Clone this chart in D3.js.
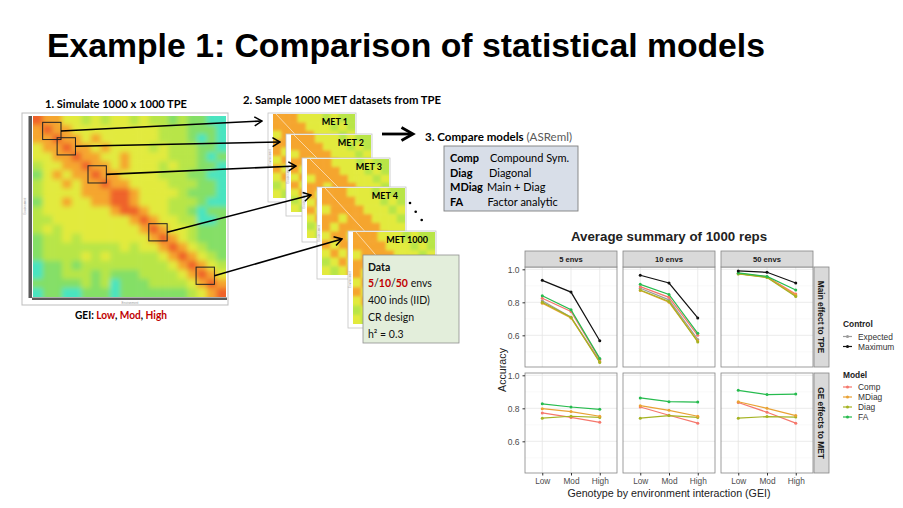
<!DOCTYPE html>
<html>
<head>
<meta charset="utf-8">
<script src="https://cdn.jsdelivr.net/npm/d3@7"></script>
<style>
body { margin: 0; background: #fff; }
svg { display: block; }
</style>
</head>
<body>
<svg width="903" height="508"></svg>
<script>
// ---- chart data ----
const gei = ['Low', 'Mod', 'High']
const envs = ['5 envs', '10 envs', '50 envs']
const effects = ['Main effect to TPE', 'GE effects to MET']
const models = ['Comp', 'MDiag', 'Diag', 'FA']
const controls = ['Expected', 'Maximum']
const yTicks = [0.6, 0.8, 1.0]
const yMinor = [0.5, 0.7, 0.9]

// top row: accuracy vs TPE main effect, one triple per env block
const tpeExpected = [[0.810, 0.710, 0.445], [0.885, 0.815, 0.575], [0.973, 0.953, 0.840]]
const tpeComp     = [[0.825, 0.745, 0.455], [0.895, 0.830, 0.600], [0.975, 0.955, 0.850]]
const tpeMDiag    = [[0.795, 0.705, 0.440], [0.872, 0.800, 0.565], [0.974, 0.952, 0.845]]
const tpeDiag     = [[0.800, 0.710, 0.435], [0.875, 0.805, 0.560], [0.972, 0.950, 0.835]]
const tpeFA       = [[0.840, 0.755, 0.460], [0.909, 0.848, 0.612], [0.978, 0.957, 0.875]]
const tpeMaximum  = [[0.933, 0.862, 0.567], [0.964, 0.917, 0.705], [0.990, 0.982, 0.917]]

// bottom row: accuracy vs GE effects in the MET
const metComp  = [[0.772, 0.745, 0.715], [0.808, 0.758, 0.710], [0.835, 0.776, 0.710]]
const metMDiag = [[0.798, 0.780, 0.752], [0.816, 0.788, 0.752], [0.840, 0.800, 0.756]]
const metDiag  = [[0.740, 0.752, 0.745], [0.740, 0.756, 0.745], [0.740, 0.750, 0.747]]
const metFA    = [[0.827, 0.808, 0.794], [0.863, 0.840, 0.838], [0.909, 0.883, 0.886]]

// heatmap colour levels (0 cyan .. 5 red), coarse reading of the TPE picture
const tpeLevels = [
  '54433232332322121100',
  '45443333333332221110',
  '44544343333332221010',
  '34454434333323222110',
  '33445443343333222101',
  '23344544343332322110',
  '13434454433332221100',
  '23343445443333222110',
  '23333444554333321110',
  '13343344554333222100',
  '23333333455433221011',
  '22333333334543322001',
  '23233333333454332111',
  '12232333333345432111',
  '12222222232334543211',
  '12222323222223454321',
  '01121222222222345432',
  '01122212111222234543',
  '11111212011122223454',
  '01100111011111112345'
]
const metLevels = [
  '4443332322',
  '4444333232',
  '3444433323',
  '4434443332',
  '4344444333',
  '3443444433',
  '4344344443',
  '3434434444',
  '2343443444',
  '3234344344'
]
const metLabels = ['MET 1', 'MET 2', 'MET 3', 'MET 4', 'MET 1000']
// sampled sub-blocks of the TPE matrix, in heatmap cells [col, row]
const sampleBlocks = [[1.0, 0.7], [2.5, 2.4], [5.7, 5.5], [12.0, 11.9], [16.9, 16.7]]
const blockSize = 1.9

const modelColors = ['#f5776c', '#e9a234', '#a5b322', '#26bb4e']
const controlColors = ['#9b9b9b', '#111111']
const heatColors = ['#48e4c0', '#84df66', '#b8e546', '#e2ea3e', '#f5a52e', '#ef622a']

const svg = d3.select('svg')
const defs = svg.append('defs')
defs.append('marker').attr('id', 'head')
  .attr('viewBox', '-9 -6 10 12').attr('markerWidth', 10).attr('markerHeight', 12)
  .attr('markerUnits', 'userSpaceOnUse').attr('refX', 0).attr('refY', 0).attr('orient', 'auto')
  .append('path').attr('d', 'M-7.5,-4.5L0,0L-7.5,4.5')
  .attr('fill', 'none').attr('stroke', '#000').attr('stroke-width', 1.5)

const heatColor = d3.scaleLinear().domain(d3.range(6)).range(heatColors)
const SLIDE = 'Lato, "Open Sans", sans-serif'
const CHART = '"Liberation Sans", Arial, sans-serif'

function heat(levels, x0, y0, w, h, id, blur) {
  const n = levels.length
  const sx = d3.scaleBand().domain(d3.range(n)).range([x0, x0 + w])
  const sy = d3.scaleBand().domain(d3.range(n)).range([y0, y0 + h])
  defs.append('clipPath').attr('id', 'c' + id)
    .append('rect').attr('x', x0).attr('y', y0).attr('width', w).attr('height', h)
  defs.append('filter').attr('id', 'f' + id)
    .attr('filterUnits', 'userSpaceOnUse')
    .attr('x', x0 - 10).attr('y', y0 - 10).attr('width', w + 20).attr('height', h + 20)
    .append('feGaussianBlur').attr('in', 'SourceGraphic').attr('stdDeviation', blur)
  const g = svg.append('g').attr('clip-path', `url(#c${id})`)
  const cells = levels.flatMap((row, i) => row.split('').map((c, j) => ({ i, j, v: +c })))
  const inner = g.append('g').attr('filter', `url(#f${id})`)
  // pad edge cells outward so the blur does not fade at the borders
  inner.selectAll('rect').data(cells).join('rect')
    .attr('x', d => sx(d.j) - (d.j === 0 ? 8 : 0))
    .attr('y', d => sy(d.i) - (d.i === 0 ? 8 : 0))
    .attr('width', d => sx.bandwidth() + 0.5 + (d.j === 0 || d.j === n - 1 ? 8 : 0))
    .attr('height', d => sy.bandwidth() + 0.5 + (d.i === 0 || d.i === n - 1 ? 8 : 0))
    .attr('fill', d => heatColor(d.v))
  return g
}

// ---- slide title ----
svg.append('text').attr('x', 47).attr('y', 57)
  .attr('font-family', CHART).attr('font-weight', 'bold').attr('font-size', 34)
  .attr('textLength', 718).attr('lengthAdjust', 'spacingAndGlyphs')
  .text('Example 1: Comparison of statistical models')

// ---- 1. TPE heatmap ----
svg.append('text').attr('x', 45).attr('y', 108)
  .attr('font-family', SLIDE).attr('font-weight', 'bold').attr('font-size', 11)
  .attr('textLength', 142).attr('lengthAdjust', 'spacingAndGlyphs')
  .text('1. Simulate 1000 x 1000 TPE')
svg.append('rect').attr('x', 22).attr('y', 113).attr('width', 206).attr('height', 192)
  .attr('fill', '#fff').attr('stroke', '#bdbdbd')
svg.append('rect').attr('x', 28.5).attr('y', 116).attr('width', 3.5).attr('height', 182).attr('fill', '#5a5a5a')
svg.append('rect').attr('x', 32).attr('y', 297.5).attr('width', 195).attr('height', 2.5).attr('fill', '#5a5a5a')
svg.append('text').attr('transform', 'translate(26,206) rotate(-90)').attr('text-anchor', 'middle')
  .attr('font-family', CHART).attr('font-size', 3).attr('fill', '#999').text('Environment')
svg.append('text').attr('x', 130).attr('y', 303.5).attr('text-anchor', 'middle')
  .attr('font-family', CHART).attr('font-size', 3).attr('fill', '#999').text('Environment')

const tpe = { x: 33, y: 116, w: 193, h: 181 }
heat(tpeLevels, tpe.x, tpe.y, tpe.w, tpe.h, 'Tpe', 2.4)
const cx = d3.scaleLinear().domain([0, tpeLevels.length]).range([tpe.x, tpe.x + tpe.w])
const cy = d3.scaleLinear().domain([0, tpeLevels.length]).range([tpe.y, tpe.y + tpe.h])
const blocks = sampleBlocks.map(([c, r]) => ({
  x0: cx(c), y0: cy(r), x1: cx(c + blockSize), y1: cy(r + blockSize)
}))
svg.append('g').selectAll('rect').data(blocks).join('rect')
  .attr('x', d => d.x0).attr('y', d => d.y0)
  .attr('width', d => d.x1 - d.x0).attr('height', d => d.y1 - d.y0)
  .attr('fill', 'none').attr('stroke', '#222').attr('stroke-width', 1)

const gei0 = svg.append('text').attr('x', 75).attr('y', 319)
  .attr('font-family', SLIDE).attr('font-weight', 'bold').attr('font-size', 11)
  .attr('textLength', 92).attr('lengthAdjust', 'spacingAndGlyphs')
gei0.append('tspan').text('GEI: ')
gei0.append('tspan').attr('fill', '#c00000').text('Low')
gei0.append('tspan').text(', ')
gei0.append('tspan').attr('fill', '#c00000').text('Mod')
gei0.append('tspan').text(', ')
gei0.append('tspan').attr('fill', '#c00000').text('High')

// ---- 2. MET samples ----
svg.append('text').attr('x', 243).attr('y', 104)
  .attr('font-family', SLIDE).attr('font-weight', 'bold').attr('font-size', 11)
  .attr('textLength', 198).attr('lengthAdjust', 'spacingAndGlyphs')
  .text('2. Sample 1000 MET datasets from TPE')

const metBoxes = [[268, 113, 88, 89], [286, 134, 86, 82], [302, 158, 88, 84], [317, 187, 89, 92], [348, 231, 88, 97]]
metBoxes.forEach(([x0, y0, w, h], k) => {
  svg.append('rect').attr('x', x0).attr('y', y0).attr('width', w).attr('height', h)
    .attr('fill', '#fff').attr('stroke', '#c4c4c4').attr('stroke-width', 0.8)
  const hx0 = x0 + 5, hy0 = y0 + 1, hw = w - 6, hh = h - 5
  heat(metLevels, hx0, hy0, hw, hh, 'Met' + k, 1.8)
  svg.append('line').attr('x1', hx0 + 3).attr('y1', hy0).attr('x2', hx0 + hw).attr('y2', hy0 + hh)
    .attr('stroke', '#fff').attr('stroke-width', 0.7).attr('opacity', 0.8)
  svg.append('text').attr('transform', `translate(${x0 + 3},${y0 + h / 2}) rotate(-90)`)
    .attr('text-anchor', 'middle').attr('font-family', CHART).attr('font-size', 3).attr('fill', '#999')
    .text('Environment')
  svg.append('text').attr('x', x0 + w - 8).attr('y', y0 + 12).attr('text-anchor', 'end')
    .attr('font-family', SLIDE).attr('font-weight', 'bold').attr('font-size', 9)
    .text(metLabels[k])
})

// data box
svg.append('rect').attr('x', 363).attr('y', 255).attr('width', 96).attr('height', 88)
  .attr('fill', '#e3eedb').attr('stroke', '#8f8f8f').attr('stroke-width', 0.8)
const dataText = svg.append('g').attr('font-family', SLIDE).attr('font-size', 10.5).attr('fill', '#111')
dataText.append('text').attr('x', 368).attr('y', 270.5).attr('font-weight', 'bold').text('Data')
const envText = dataText.append('text').attr('x', 368).attr('y', 287)
;['5', '/', '10', '/', '50'].forEach(s => {
  envText.append('tspan').attr('fill', s === '/' ? '#111' : '#c00000')
    .attr('font-weight', s === '/' ? 'normal' : 'bold').text(s)
})
envText.append('tspan').text(' envs')
dataText.append('text').attr('x', 368).attr('y', 304).text('400 inds (IID)')
dataText.append('text').attr('x', 368).attr('y', 321).text('CR design')
dataText.append('text').attr('x', 368).attr('y', 337.5).text('h² = 0.3')

// arrows TPE blocks -> MET panels
const links = blocks.map((b, k) => ({
  x1: b.x1, y1: (b.y0 + b.y1) / 2,
  x2: metBoxes[k][0] - 6, y2: metBoxes[k][1] + 8
}))
svg.append('g').selectAll('line').data(links).join('line')
  .attr('x1', d => d.x1).attr('y1', d => d.y1).attr('x2', d => d.x2).attr('y2', d => d.y2)
  .attr('stroke', '#000').attr('stroke-width', 1.6).attr('marker-end', 'url(#head)')

svg.append('g').selectAll('circle').data([[410, 203], [415.7, 211.7], [421.7, 220]]).join('circle')
  .attr('cx', d => d[0]).attr('cy', d => d[1]).attr('r', 1.3).attr('fill', '#000')

// ---- 3. compare models ----
svg.append('line').attr('x1', 382).attr('y1', 134).attr('x2', 412).attr('y2', 134)
  .attr('stroke', '#000').attr('stroke-width', 2.8)
svg.append('path').attr('d', 'M401.5,127.5L413,134L401.5,140.5')
  .attr('fill', 'none').attr('stroke', '#000').attr('stroke-width', 2.8)
const cmp = svg.append('text').attr('x', 425).attr('y', 140.5)
  .attr('font-family', SLIDE).attr('font-size', 12)
  .attr('textLength', 147).attr('lengthAdjust', 'spacingAndGlyphs')
cmp.append('tspan').attr('font-weight', 'bold').text('3. Compare models ')
cmp.append('tspan').attr('fill', '#595959').text('(ASReml)')

svg.append('rect').attr('x', 444).attr('y', 146).attr('width', 134).attr('height', 65)
  .attr('fill', '#d8dee8').attr('stroke', '#7f7f7f').attr('stroke-width', 0.9)
const modelDesc = ['Compound Sym.', 'Main + Diag', 'Diagonal', 'Factor analytic']
const descX = [490, 487, 489, 487.5]
const boxOrder = [0, 2, 1, 3] // Comp, Diag, MDiag, FA as listed in the box
boxOrder.forEach((m, r) => {
  const yb = 162 + r * 14.7
  svg.append('text').attr('x', 450).attr('y', yb).attr('font-family', SLIDE)
    .attr('font-weight', 'bold').attr('font-size', 11).text(models[m])
  svg.append('text').attr('x', descX[m]).attr('y', yb).attr('font-family', SLIDE)
    .attr('font-size', 11).text(modelDesc[m])
})

// ---- faceted line chart ----
const px = [525, 623, 721], pw = 92
const py = [267, 373], ph = 100
const x = d3.scalePoint().domain(gei).range([0, pw]).padding(0.6)
const y = d3.scaleLinear().domain([0.408, 1.014]).range([ph, 0])
const color = d3.scaleOrdinal().domain([...models, ...controls]).range([...modelColors, ...controlColors])

const rowSeries = [
  [['Expected', tpeExpected], ['Comp', tpeComp], ['MDiag', tpeMDiag], ['Diag', tpeDiag], ['FA', tpeFA], ['Maximum', tpeMaximum]],
  [['Comp', metComp], ['Diag', metDiag], ['MDiag', metMDiag], ['FA', metFA]]
]

const chart = svg.append('g').attr('font-family', CHART)
chart.append('text').attr('x', 669).attr('y', 241).attr('text-anchor', 'middle')
  .attr('font-weight', 'bold').attr('font-size', 13.3).attr('fill', '#222')
  .text('Average summary of 1000 reps')

const line = d3.line().x((d, i) => x(gei[i])).y(d => y(d))

effects.forEach((eff, r) => {
  envs.forEach((env, c) => {
    const g = chart.append('g').attr('transform', `translate(${px[c]},${py[r]})`)
    g.append('rect').attr('width', pw).attr('height', ph).attr('fill', '#fff')
    g.selectAll('.minor').data(yMinor).join('line').attr('class', 'minor')
      .attr('x1', 0).attr('x2', pw).attr('y1', d => y(d)).attr('y2', d => y(d))
      .attr('stroke', '#f2f2f2').attr('stroke-width', 0.5)
    g.selectAll('.hmaj').data(yTicks).join('line').attr('class', 'hmaj')
      .attr('x1', 0).attr('x2', pw).attr('y1', d => y(d)).attr('y2', d => y(d))
      .attr('stroke', '#e6e6e6').attr('stroke-width', 0.8)
    g.selectAll('.vmaj').data(gei).join('line').attr('class', 'vmaj')
      .attr('y1', 0).attr('y2', ph).attr('x1', d => x(d)).attr('x2', d => x(d))
      .attr('stroke', '#e6e6e6').attr('stroke-width', 0.8)

    rowSeries[r].forEach(([name, vals]) => {
      const v = vals[c]
      g.append('path').datum(v).attr('d', line)
        .attr('fill', 'none').attr('stroke', color(name)).attr('stroke-width', 1.2)
      g.selectAll(null).data(v).join('circle')
        .attr('cx', (d, i) => x(gei[i])).attr('cy', d => y(d)).attr('r', 1.5)
        .attr('fill', color(name))
    })
    g.append('rect').attr('width', pw).attr('height', ph)
      .attr('fill', 'none').attr('stroke', '#858585').attr('stroke-width', 0.8)

    if (r === 0) {
      chart.append('rect').attr('x', px[c]).attr('y', py[0] - 16).attr('width', pw).attr('height', 16)
        .attr('fill', '#d9d9d9').attr('stroke', '#858585').attr('stroke-width', 0.8)
      chart.append('text').attr('x', px[c] + pw / 2).attr('y', py[0] - 5.3).attr('text-anchor', 'middle')
        .attr('font-weight', 'bold').attr('font-size', 7.6).attr('fill', '#1a1a1a').text(env)
    }
    if (c === 0) {
      const ax = chart.append('g').attr('transform', `translate(${px[0]},${py[r]})`)
        .call(d3.axisLeft(y).tickValues(yTicks).tickSize(2.5).tickFormat(d3.format('.1f')))
      ax.select('.domain').remove()
      ax.selectAll('line').attr('stroke', '#333')
      ax.selectAll('text').attr('font-family', CHART).attr('font-size', 8.5).attr('fill', '#4d4d4d')
    }
    if (r === 1) {
      const ax = chart.append('g').attr('transform', `translate(${px[c]},${py[1] + ph})`)
        .call(d3.axisBottom(x).tickSize(2.5))
      ax.select('.domain').remove()
      ax.selectAll('line').attr('stroke', '#333')
      ax.selectAll('text').attr('font-family', CHART).attr('font-size', 8.3).attr('fill', '#4d4d4d')
    }
  })
  chart.append('rect').attr('x', 814).attr('y', py[r]).attr('width', 15).attr('height', ph)
    .attr('fill', '#d9d9d9').attr('stroke', '#858585').attr('stroke-width', 0.8)
  chart.append('text').attr('transform', `translate(818.3,${py[r] + ph / 2}) rotate(90)`)
    .attr('text-anchor', 'middle').attr('font-weight', 'bold').attr('font-size', 8.4)
    .attr('fill', '#1a1a1a').text(eff)
})

chart.append('text').attr('transform', `translate(506,370) rotate(-90)`).attr('text-anchor', 'middle')
  .attr('font-size', 10.7).attr('fill', '#222').text('Accuracy')
chart.append('text').attr('x', 669).attr('y', 497).attr('text-anchor', 'middle')
  .attr('font-size', 10.7).attr('fill', '#222').text('Genotype by environment interaction (GEI)')

// legends
function legend(title, keys, y0) {
  const lg = chart.append('g')
  lg.append('text').attr('x', 843).attr('y', y0).attr('font-weight', 'bold')
    .attr('font-size', 8.4).attr('fill', '#222').text(title)
  keys.forEach((k, i) => {
    const yy = y0 + 9.5 + i * 10
    lg.append('line').attr('x1', 843).attr('x2', 852).attr('y1', yy).attr('y2', yy)
      .attr('stroke', color(k)).attr('stroke-width', 1.2)
    lg.append('circle').attr('cx', 847.5).attr('cy', yy).attr('r', 1.5).attr('fill', color(k))
    lg.append('text').attr('x', 858).attr('y', yy + 3).attr('font-size', 8.4).attr('fill', '#333').text(k)
  })
}
legend('Control', controls, 327)
legend('Model', models, 377.5)
</script>
</body>
</html>
